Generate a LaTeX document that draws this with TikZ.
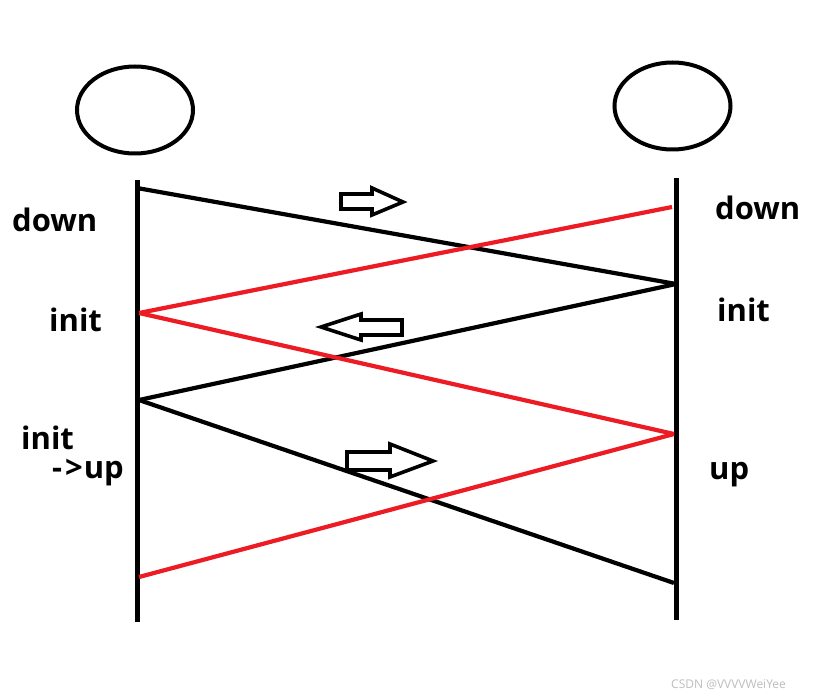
\documentclass[tikz,border=0pt]{standalone}
\usepackage{fontspec}
\setmainfont{Open Sans}
\definecolor{paintred}{RGB}{237,28,36}
\definecolor{wmgray}{RGB}{190,190,190}
\tikzset{
  lifeline/.style={line width=5pt},
  blackmsg/.style={line width=4.2pt, black},
  redmsg/.style={line width=4.2pt, paintred},
  party/.style={draw, line width=4pt, ellipse, minimum width=116pt, minimum height=87pt, inner sep=0pt},
  hollow/.style={draw, line width=3.6pt, fill=white, line join=miter},
  state/.style={font=\fontsize{31}{36}\selectfont\bfseries, inner sep=0pt, anchor=base west}
}
\usetikzlibrary{shapes.geometric}
\begin{document}
\begin{tikzpicture}[x=1pt,y=-1pt]
\useasboundingbox[fill=white] (0,0) rectangle (823,698);
% parties
\node[party] (pa) at (135,110) {};
\node[party] (pb) at (672.5,106) {};
% lifelines
\coordinate (la) at (137,180);
\coordinate (lae) at (137,622);
\coordinate (lb) at (676,178);
\coordinate (lbe) at (676,620);
\draw[lifeline] (la) -- (lae);
\draw[lifeline] (lb) -- (lbe);
% message endpoints
\coordinate (a1) at (137,188);
\coordinate (a2) at (139,313);
\coordinate (a3) at (139,400);
\coordinate (a4) at (139,577);
\coordinate (b1) at (672,207);
\coordinate (b2) at (676,284);
\coordinate (b3) at (674,434);
\coordinate (b4) at (674,583);
% messages
\draw[blackmsg] (a1) -- (b2);
\draw[redmsg] (b1) -- (a2);
\draw[blackmsg] (b2) -- (a3);
\draw[redmsg] (a2) -- (b3);
\draw[blackmsg] (a3) -- (b4);
\draw[redmsg] (b3) -- (a4);
% hollow direction arrows
\draw[hollow] (341,194) -- (372,194) -- (372,188) -- (403,202) -- (372,215) -- (372,209) -- (341,209) -- cycle;
\draw[hollow] (402,320) -- (361,320) -- (361,314) -- (321,327) -- (361,340) -- (361,335) -- (402,335) -- cycle;
\draw[hollow] (347,452) -- (390,452) -- (390,444) -- (433,461) -- (390,477) -- (390,470) -- (347,470) -- cycle;
% state labels
\node[state] (ld) at (12,232) {down};
\node[state] (li1) at (49,331) {init};
\node[state] (li2) at (21,449) {init};
\node[state] (lup) at (52,478) {-\hspace{3pt}{}>\hspace{1pt}up};
\node[state] (rd) at (715,220) {down};
\node[state] (ri) at (717,321) {init};
\node[state] (rup) at (709,479) {up};
% watermark
\node[font=\fontsize{12}{14}\selectfont, text=wmgray, inner sep=0pt, anchor=base west] (wm) at (671,688) {CSDN @VVVVWeiYee};
\end{tikzpicture}
\end{document}
